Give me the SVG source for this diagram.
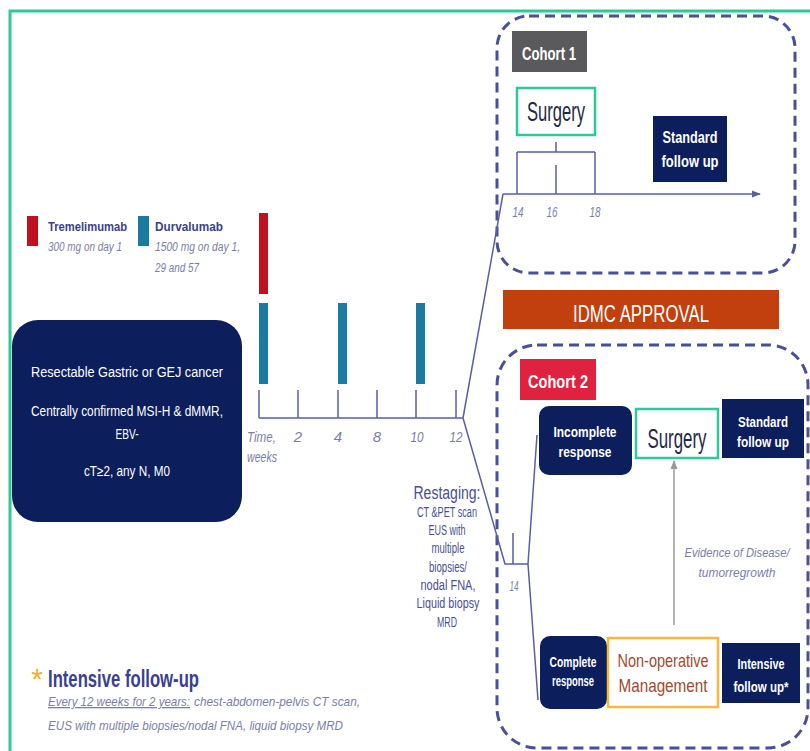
<svg xmlns="http://www.w3.org/2000/svg" width="810" height="751" viewBox="0 0 810 751">
<style>
text{font-family:"Liberation Sans",Arial,sans-serif}
.w{fill:#ffffff}
.navy{fill:#0c1e5b}
.lbl{fill:#3b3f8e;font-weight:bold}
.it{fill:#7a7ea8;font-style:italic}
.ax{stroke:#5a5ea8;stroke-width:1.5;fill:none}
.dash{fill:none;stroke:#4b4f97;stroke-width:3;stroke-dasharray:10 6}
.surg{fill:#ffffff;stroke:#2ec99a;stroke-width:2.5}
.bw{fill:#ffffff;font-weight:bold}
.c{text-anchor:middle}
.rs{fill:#4a508f;text-anchor:middle}
</style>
<defs>
<marker id="ah" viewBox="0 0 10 10" refX="9" refY="5" markerWidth="6" markerHeight="6" orient="auto"><path d="M0,1 L10,5 L0,9 z" fill="#5a5ea8"/></marker>
<marker id="ag" viewBox="0 0 10 10" refX="9" refY="5" markerWidth="6" markerHeight="6" orient="auto"><path d="M0,1 L10,5 L0,9 z" fill="#9a9a9a"/></marker>
</defs>
<rect width="810" height="751" fill="#ffffff"/>
<g id="frame"><path d="M10,751 L10,11 L810,11" fill="none" stroke="#2ec994" stroke-width="3"/></g>

<g id="legend">
<rect x="27" y="216" width="11" height="30" fill="#c0111f"/>
<text x="48" y="231" class="lbl" font-size="13" textLength="79" lengthAdjust="spacingAndGlyphs">Tremelimumab</text>
<text x="48" y="251" class="it" font-size="12" textLength="74" lengthAdjust="spacingAndGlyphs">300 mg on day 1</text>
<rect x="138" y="216" width="11" height="30" fill="#1a7aa0"/>
<text x="155" y="231" class="lbl" font-size="13" textLength="68" lengthAdjust="spacingAndGlyphs">Durvalumab</text>
<text x="155" y="251" class="it" font-size="12" textLength="85" lengthAdjust="spacingAndGlyphs">1500 mg on day 1,</text>
<text x="155" y="272" class="it" font-size="12" textLength="44" lengthAdjust="spacingAndGlyphs">29 and 57</text>
</g>

<g id="patient">
<rect x="12" y="320" width="230" height="202" rx="26" class="navy"/>
<text x="127" y="377" class="w c" font-size="14" textLength="192" lengthAdjust="spacingAndGlyphs">Resectable Gastric or GEJ cancer</text>
<text x="127" y="416" class="w c" font-size="14" textLength="192" lengthAdjust="spacingAndGlyphs">Centrally confirmed MSI-H &amp; dMMR,</text>
<text x="127" y="439" class="w c" font-size="14" textLength="23" lengthAdjust="spacingAndGlyphs">EBV-</text>
<text x="127" y="476" class="w c" font-size="14" textLength="86" lengthAdjust="spacingAndGlyphs">cT≥2, any N, M0</text>
</g>

<g id="doses">
<rect x="259" y="213" width="9" height="81" fill="#c0111f"/>
<rect x="259" y="303" width="9" height="81" fill="#1a7aa0"/>
<rect x="338" y="303" width="9" height="81" fill="#1a7aa0"/>
<rect x="416" y="303" width="9" height="81" fill="#1a7aa0"/>
</g>

<g id="timeline">
<path class="ax" d="M259,418 H463 M259,390 V418 M298,390 V418 M338,390 V418 M377,390 V418 M416,390 V418 M456,390 V418"/>
<text x="247" y="442" class="it" font-size="15" textLength="29" lengthAdjust="spacingAndGlyphs">Time,</text>
<text x="247" y="462" class="it" font-size="15" textLength="30" lengthAdjust="spacingAndGlyphs">weeks</text>
<text x="298" y="442" class="it c" font-size="15">2</text>
<text x="338" y="442" class="it c" font-size="15">4</text>
<text x="377" y="442" class="it c" font-size="15">8</text>
<text x="417" y="442" class="it c" font-size="15" textLength="13" lengthAdjust="spacingAndGlyphs">10</text>
<text x="456" y="442" class="it c" font-size="15" textLength="13" lengthAdjust="spacingAndGlyphs">12</text>
</g>

<g id="restaging">
<text x="447" y="499" class="rs" font-size="18" textLength="67" lengthAdjust="spacingAndGlyphs">Restaging:</text>
<text x="447" y="517" class="rs" font-size="14" textLength="60" lengthAdjust="spacingAndGlyphs">CT &amp;PET scan</text>
<text x="447" y="535" class="rs" font-size="14" textLength="37" lengthAdjust="spacingAndGlyphs">EUS with</text>
<text x="448" y="553" class="rs" font-size="14" textLength="33" lengthAdjust="spacingAndGlyphs">multiple</text>
<text x="448" y="572" class="rs" font-size="14" textLength="38" lengthAdjust="spacingAndGlyphs">biopsies/</text>
<text x="448" y="590" class="rs" font-size="14" textLength="55" lengthAdjust="spacingAndGlyphs">nodal FNA,</text>
<text x="448" y="608" class="rs" font-size="14" textLength="63" lengthAdjust="spacingAndGlyphs">Liquid biopsy</text>
<text x="447" y="627" class="rs" font-size="14" textLength="20" lengthAdjust="spacingAndGlyphs">MRD</text>
</g>

<g id="cohort1-box"><rect x="497" y="16" width="298" height="257" rx="32" class="dash"/></g>
<g id="cohort1-label">
<rect x="512" y="31" width="75" height="41" fill="#5a5a5c"/>
<text x="549" y="60" class="bw c" font-size="18" textLength="54" lengthAdjust="spacingAndGlyphs">Cohort  1</text>
</g>
<g id="surgery1">
<rect x="517" y="88" width="78" height="47" class="surg"/>
<text x="556" y="121" class="c" font-size="27" fill="#1e2a44" textLength="58" lengthAdjust="spacingAndGlyphs">Surgery</text>
</g>
<g id="standard1">
<rect x="653" y="116" width="74" height="66" class="navy"/>
<text x="690" y="143" class="bw c" font-size="17" textLength="55" lengthAdjust="spacingAndGlyphs">Standard</text>
<text x="690" y="167" class="bw c" font-size="17" textLength="57" lengthAdjust="spacingAndGlyphs">follow up</text>
</g>
<g id="cohort1-axis">
<text x="518" y="217" class="it c" font-size="15" textLength="11" lengthAdjust="spacingAndGlyphs">14</text>
<text x="552" y="217" class="it c" font-size="15" textLength="11" lengthAdjust="spacingAndGlyphs">16</text>
<text x="595" y="217" class="it c" font-size="15" textLength="11" lengthAdjust="spacingAndGlyphs">18</text>
</g>

<g id="idmc">
<rect x="503" y="290" width="276" height="39" fill="#c1400d"/>
<text x="641" y="322" class="w c" font-size="24" textLength="136" lengthAdjust="spacingAndGlyphs">IDMC APPROVAL</text>
</g>

<g id="cohort2-box"><rect x="497" y="345" width="311" height="403" rx="40" class="dash"/></g>
<g id="cohort2-label">
<rect x="520" y="359" width="76" height="41" fill="#e0213f"/>
<text x="558" y="388" class="bw c" font-size="18" textLength="60" lengthAdjust="spacingAndGlyphs">Cohort  2</text>
</g>
<g id="incomplete">
<rect x="539" y="406" width="93" height="69" rx="10" class="navy"/>
<text x="585" y="437" class="bw c" font-size="15" textLength="63" lengthAdjust="spacingAndGlyphs">Incomplete</text>
<text x="585" y="457" class="bw c" font-size="15" textLength="53" lengthAdjust="spacingAndGlyphs">response</text>
</g>
<g id="surgery2">
<rect x="636" y="409" width="82" height="49" class="surg"/>
<text x="677" y="448" class="c" font-size="27" fill="#1e2a44" textLength="59" lengthAdjust="spacingAndGlyphs">Surgery</text>
</g>
<g id="standard2">
<rect x="722" y="399" width="82" height="59" class="navy"/>
<text x="763" y="427" class="bw c" font-size="15" textLength="50" lengthAdjust="spacingAndGlyphs">Standard</text>
<text x="763" y="447" class="bw c" font-size="15" textLength="52" lengthAdjust="spacingAndGlyphs">follow up</text>
</g>
<g id="evidence">
<text x="737" y="557" class="it c" font-size="13" textLength="105" lengthAdjust="spacingAndGlyphs">Evidence of Disease/</text>
<text x="737" y="577" class="it c" font-size="13" textLength="77" lengthAdjust="spacingAndGlyphs">tumorregrowth</text>
</g>
<g id="complete">
<rect x="540" y="636" width="67" height="73" rx="10" class="navy"/>
<text x="573" y="667" class="bw c" font-size="14" textLength="47" lengthAdjust="spacingAndGlyphs">Complete</text>
<text x="573" y="686" class="bw c" font-size="14" textLength="42" lengthAdjust="spacingAndGlyphs">response</text>
</g>
<g id="nonop">
<rect x="608" y="638" width="110" height="69" fill="#ffffff" stroke="#f5b942" stroke-width="2.5"/>
<text x="663" y="667" class="c" font-size="19" fill="#a34a2e" textLength="91" lengthAdjust="spacingAndGlyphs">Non-operative</text>
<text x="663" y="692" class="c" font-size="19" fill="#a34a2e" textLength="89" lengthAdjust="spacingAndGlyphs">Management</text>
</g>
<g id="intensive">
<rect x="722" y="643" width="78" height="60" class="navy"/>
<text x="761" y="669" class="bw c" font-size="15" textLength="47" lengthAdjust="spacingAndGlyphs">Intensive</text>
<text x="761" y="692" class="bw c" font-size="15" textLength="55" lengthAdjust="spacingAndGlyphs">follow up*</text>
</g>
<g id="cohort2-axis">
<text x="514" y="591" class="it c" font-size="14" textLength="9" lengthAdjust="spacingAndGlyphs">14</text>
</g>

<g id="connectors">
<path class="ax" d="M463,418 L503,194"/>
<path class="ax" d="M503,194 H760" marker-end="url(#ah)"/>
<path class="ax" d="M517,152 H595 M556,142 V152 M517,152 V194 M595,152 V194 M556,165 V194"/>
<path class="ax" d="M463,418 L505,564 H528 M513,533 V564 M528,564 L537,435 M528,564 L538,700"/>
<path d="M674,625 V461" stroke="#9a9a9a" stroke-width="1.5" fill="none" marker-end="url(#ag)"/>
</g>

<g id="footer">
<text x="37" y="689" class="c" font-size="30" fill="#f0b030">*</text>
<text x="48" y="687" class="lbl" font-size="23" textLength="151" lengthAdjust="spacingAndGlyphs">Intensive follow-up</text>
<text x="48" y="706" class="it" font-size="13" text-decoration="underline" textLength="142" lengthAdjust="spacingAndGlyphs">Every 12 weeks for 2 years:</text>
<text x="194" y="706" class="it" font-size="13" textLength="166" lengthAdjust="spacingAndGlyphs">chest-abdomen-pelvis CT scan,</text>
<text x="48" y="730" class="it" font-size="13" textLength="295" lengthAdjust="spacingAndGlyphs">EUS with multiple biopsies/nodal FNA, liquid biopsy MRD</text>
</g>
</svg>
